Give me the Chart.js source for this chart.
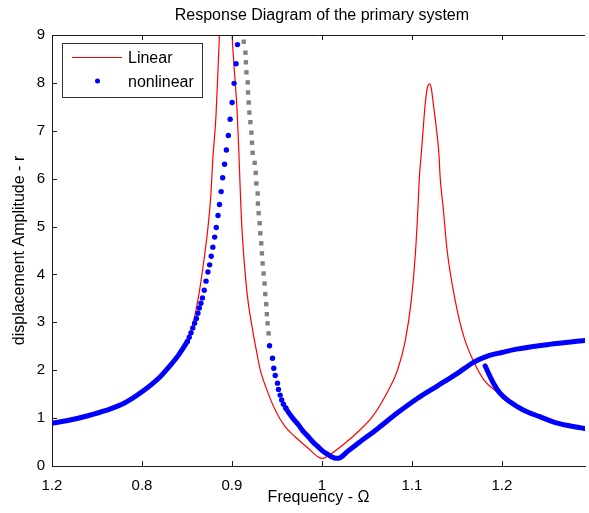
<!DOCTYPE html>
<html>
<head>
<meta charset="utf-8">
<script src="https://cdn.jsdelivr.net/npm/chart.js@4.4.0/dist/chart.umd.min.js"></script>
<style>
  html, body { margin: 0; padding: 0; background: #fff; }
</style>
</head>
<body>
<canvas id="respChart" width="589" height="513"></canvas>
<script>
// Values (frequency ratio vs amplitude)
const xTickValues = [0.7, 0.8, 0.9, 1.0, 1.1, 1.2];
const xTickLabels = ['1.2', '0.8', '0.9', '1', '1.1', '1.2'];
const yTickValues = [0, 1, 2, 3, 4, 5, 6, 7, 8, 9];

// linear system
const linearFreq = [0.70, 0.74, 0.78, 0.80, 0.82, 0.84, 0.85, 0.857, 0.8635, 0.8685, 0.8734, 0.8764, 0.8789, 0.8822, 0.8848, 0.8863, 0.893,
  0.9002, 0.9021, 0.9057, 0.9076, 0.9095, 0.9113, 0.9168, 0.9223, 0.9278, 0.9315, 0.9388, 0.9481, 0.9591, 0.9701, 0.9848, 0.9958, 1.0013,
  1.0068, 1.0252, 1.0399, 1.0565, 1.0730, 1.0840, 1.0928, 1.0994, 1.1038, 1.1068, 1.1083, 1.1105, 1.1127, 1.1149, 1.1176, 1.1198, 1.1215,
  1.1237, 1.1270, 1.1300, 1.1314, 1.1347, 1.1391, 1.1480, 1.1579, 1.1689, 1.1800, 1.1943, 1.2017, 1.2089, 1.2237, 1.2420, 1.2604, 1.2924];
const linearAmp = [0.88, 1.04, 1.31, 1.53, 1.85, 2.30, 2.62, 3.0, 3.61, 4.25, 4.99, 5.62, 6.45, 7.29, 8.41, 9.1, 13.0,
  9.0, 8.41, 7.43, 6.60, 5.62, 4.90, 3.61, 2.91, 2.35, 2.00, 1.59, 1.17, 0.82, 0.61, 0.37, 0.19, 0.16,
  0.21, 0.47, 0.71, 1.04, 1.55, 2.00, 2.63, 3.47, 4.41, 5.41, 6.03, 6.53, 7.08, 7.58, 7.93, 7.98, 7.89,
  7.58, 7.08, 6.53, 6.03, 5.41, 4.51, 3.47, 2.69, 2.17, 1.80, 1.55, 1.44, 1.33, 1.16, 1.02, 0.90, 0.78];

// nonlinear: stable branch below resonance (dense, drawn as thick line)
const nlLowFreq = [0.70, 0.72, 0.74, 0.76, 0.78, 0.80, 0.82, 0.83, 0.84, 0.8505];
const nlLowAmp = [0.89, 0.96, 1.05, 1.16, 1.31, 1.55, 1.86, 2.07, 2.30, 2.60];

// nonlinear: stable branch climbing the resonance (separate dots)
const nlPeakFreq = [0.8505, 0.8525, 0.8545, 0.8565, 0.8585, 0.8605, 0.8622, 0.8637, 0.8655, 0.8672, 0.8692, 0.8712, 0.8733, 0.8752,
  0.8770, 0.8788, 0.8808, 0.8826, 0.8845, 0.8862, 0.8880, 0.8897, 0.8918, 0.8938, 0.8960, 0.8980, 0.9002, 0.9024, 0.9046, 0.9062];
const nlPeakAmp = [2.60, 2.69, 2.78, 2.88, 2.98, 3.08, 3.19, 3.30, 3.40, 3.51, 3.67, 3.86, 4.05, 4.20,
  4.38, 4.57, 4.78, 4.98, 5.23, 5.46, 5.73, 6.02, 6.30, 6.60, 6.90, 7.24, 7.59, 7.99, 8.40, 8.80];

// nonlinear: unstable branch (grey squares)
const unstableFreq = [0.9131, 0.9150, 0.9155, 0.9161, 0.9175, 0.9179, 0.9186, 0.9194, 0.9205, 0.9216, 0.9223, 0.9230, 0.9253, 0.9264,
  0.9271, 0.9286, 0.9289, 0.9297, 0.9308, 0.9315, 0.9326, 0.9333, 0.9341, 0.9352, 0.9363, 0.9370, 0.9381, 0.9388, 0.9396, 0.9407];
const unstableAmp = [8.86, 8.63, 8.43, 8.22, 8.01, 7.80, 7.59, 7.38, 7.18, 6.96, 6.75, 6.54, 6.33, 6.12,
  5.90, 5.69, 5.48, 5.28, 5.07, 4.86, 4.65, 4.44, 4.23, 4.02, 3.81, 3.59, 3.38, 3.17, 2.98, 2.77];

// nonlinear: stable branch coming down after the jump (dots)
const nlDropFreq = [0.9418, 0.9451, 0.9465, 0.9481, 0.9506, 0.9517, 0.9536, 0.9553, 0.9572, 0.9598];
const nlDropAmp = [2.51, 2.25, 2.04, 1.89, 1.73, 1.60, 1.48, 1.38, 1.29, 1.21];

// nonlinear: through the anti-resonance and rising branch (thick line)
const nlMidFreq = [0.9598, 0.9628, 0.9680, 0.9738, 0.9790, 0.9849, 0.9900, 0.9959, 1.0010, 1.0068, 1.0110, 1.0157, 1.0200, 1.0230,
  1.0289, 1.0399, 1.0619, 1.0840, 1.1060, 1.1281, 1.1502, 1.1689, 1.1832, 1.1998, 1.2163, 1.2527, 1.2924];
const nlMidAmp = [1.21, 1.12, 0.99, 0.86, 0.73, 0.61, 0.50, 0.40, 0.31, 0.24, 0.19, 0.16, 0.17, 0.21,
  0.31, 0.47, 0.78, 1.11, 1.41, 1.67, 1.93, 2.17, 2.29, 2.37, 2.44, 2.54, 2.62];

// nonlinear: lower branch on the right
const nlHighFreq = [1.1814, 1.1851, 1.1906, 1.1979, 1.2089, 1.2237, 1.2420, 1.2604, 1.2899, 1.2924];
const nlHighAmp = [2.09, 1.94, 1.73, 1.52, 1.34, 1.17, 1.03, 0.90, 0.79, 0.78];

const axisColor = '#1a1a1a';
const blue = '#0000ff';
const fontFamily = '"Liberation Sans", Arial, sans-serif';

function pts(xs, ys) {
  return xs.map((v, i) => ({ x: v, y: ys[i] }));
}

// inward tick marks + top frame line, MATLAB style
const frameTicks = {
  id: 'frameTicks',
  afterDraw(chart) {
    const { ctx, chartArea: a, scales: { x, y } } = chart;
    ctx.save();
    ctx.strokeStyle = axisColor;
    ctx.lineWidth = 1;
    ctx.beginPath();
    ctx.moveTo(a.left, a.top + 0.5);
    ctx.lineTo(a.right, a.top + 0.5);
    xTickValues.forEach(v => {
      const px = Math.round(x.getPixelForValue(v)) + 0.5;
      ctx.moveTo(px, a.bottom);
      ctx.lineTo(px, a.bottom - 5);
      ctx.moveTo(px, a.top);
      ctx.lineTo(px, a.top + 5);
    });
    yTickValues.forEach(v => {
      const py = Math.round(y.getPixelForValue(v)) + 0.5;
      ctx.moveTo(a.left, py);
      ctx.lineTo(a.left + 5, py);
    });
    ctx.stroke();

    // title centred over the full (cropped) axes box
    ctx.fillStyle = '#000';
    ctx.font = '16px ' + fontFamily;
    ctx.textAlign = 'center';
    ctx.textBaseline = 'middle';
    const cx = (a.left + x.getPixelForValue(1.3)) / 2;
    ctx.fillText('Response Diagram of the primary system', cx, 16);

    // legend box
    const lx = 62, ly = 43, lw = 140, lh = 54;
    ctx.fillStyle = '#fff';
    ctx.fillRect(lx, ly, lw, lh);
    ctx.strokeStyle = '#333';
    ctx.strokeRect(lx + 0.5, ly + 0.5, lw, lh);
    ctx.strokeStyle = 'red';
    ctx.beginPath();
    ctx.moveTo(72, 57.5);
    ctx.lineTo(122, 57.5);
    ctx.stroke();
    ctx.fillStyle = blue;
    ctx.beginPath();
    ctx.arc(97.5, 81, 2.5, 0, Math.PI * 2);
    ctx.fill();
    ctx.fillStyle = '#000';
    ctx.font = '16px ' + fontFamily;
    ctx.textAlign = 'left';
    ctx.fillText('Linear', 128, 59);
    ctx.fillText('nonlinear', 128, 83);
    ctx.restore();
  }
};

const ctx = document.getElementById('respChart');

const thickBlue = {
  showLine: true,
  borderColor: blue,
  borderWidth: 5,
  borderCapStyle: 'round',
  borderJoinStyle: 'round',
  cubicInterpolationMode: 'monotone',
  pointRadius: 0,
  order: 2
};

new Chart(ctx, {
  type: 'scatter',
  data: {
    datasets: [
      {
        label: 'Linear',
        data: pts(linearFreq, linearAmp),
        showLine: true,
        borderColor: 'red',
        borderWidth: 1.2,
        cubicInterpolationMode: 'monotone',
        pointRadius: 0,
        order: 10
      },
      Object.assign({ label: 'nonlinear', data: pts(nlLowFreq, nlLowAmp) }, thickBlue),
      {
        label: 'nonlinear peak',
        data: pts(nlPeakFreq, nlPeakAmp),
        showLine: false,
        backgroundColor: blue,
        borderWidth: 0,
        pointRadius: 2.7,
        order: 2
      },
      {
        label: 'unstable',
        data: pts(unstableFreq, unstableAmp),
        showLine: false,
        pointStyle: 'rect',
        backgroundColor: '#808080',
        borderWidth: 0,
        pointRadius: 3.1,
        order: 3
      },
      {
        label: 'nonlinear drop',
        data: pts(nlDropFreq, nlDropAmp),
        showLine: false,
        backgroundColor: blue,
        borderWidth: 0,
        pointRadius: 2.7,
        order: 2
      },
      Object.assign({ label: 'nonlinear mid', data: pts(nlMidFreq, nlMidAmp) }, thickBlue),
      Object.assign({ label: 'nonlinear high', data: pts(nlHighFreq, nlHighAmp) }, thickBlue)
    ]
  },
  options: {
    responsive: false,
    animation: false,
    layout: { padding: { top: 35, right: 0, left: 0, bottom: 0 } },
    plugins: {
      legend: { display: false },
      tooltip: { enabled: false },
      title: { display: false }
    },
    scales: {
      x: {
        type: 'linear',
        min: 0.7,
        max: 1.2924,
        afterFit: s => { s.height = 47; },
        afterBuildTicks: s => { s.ticks = xTickValues.map(v => ({ value: v })); },
        grid: { display: true, drawOnChartArea: false, drawTicks: false },
        border: { display: true, color: axisColor, width: 1 },
        ticks: {
          autoSkip: false,
          maxRotation: 0,
          padding: 11,
          color: '#000',
          font: { family: fontFamily, size: 15 },
          callback: (value, index) => xTickLabels[index]
        },
        title: {
          display: true,
          text: 'Frequency - Ω',
          color: '#000',
          font: { family: fontFamily, size: 16 },
          padding: { top: 0, bottom: 6 }
        }
      },
      y: {
        min: 0,
        max: 9,
        afterFit: s => { s.width = 52; },
        afterBuildTicks: s => { s.ticks = yTickValues.map(v => ({ value: v })); },
        grid: { display: true, drawOnChartArea: false, drawTicks: false },
        border: { display: true, color: axisColor, width: 1 },
        ticks: {
          padding: 7,
          color: '#000',
          font: { family: fontFamily, size: 15 }
        },
        title: {
          display: true,
          text: 'displacement Amplitude - r',
          color: '#000',
          font: { family: fontFamily, size: 16 },
          padding: { top: 10, bottom: 0 }
        }
      }
    }
  },
  plugins: [frameTicks]
});
</script>
</body>
</html>
